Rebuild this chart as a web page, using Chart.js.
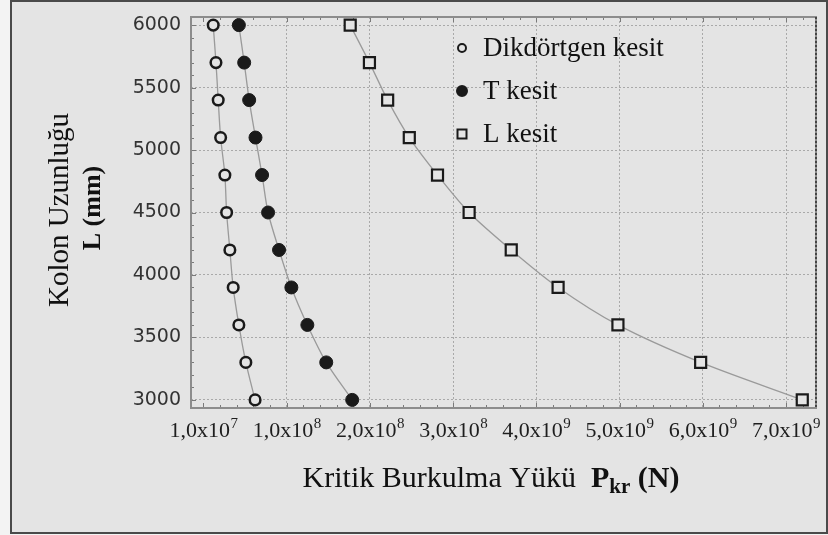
<!DOCTYPE html>
<html>
<head>
<meta charset="utf-8">
<script src="https://cdn.jsdelivr.net/npm/chart.js@4"></script>
<style>
  html, body { margin: 0; padding: 0; background: #f3f3f3; }
  #frame {
    position: absolute; left: 10px; top: 0px;
    width: 814px; height: 530px;
    border: 2px solid #4a4a4a;
    background: #e4e4e4;
  }
  #chart { display: block; }
</style>
</head>
<body>
<div id="frame"><canvas id="chart" width="814" height="530"></canvas></div>
<script>
// column length L (mm), top to bottom
var lengths = [6000, 5700, 5400, 5100, 4800, 4500, 4200, 3900, 3600, 3300, 3000];

// critical load, read as position along the x axis in tick steps
// (position i sits under xTickBases[i] x 10^xTickExps[i])
var dikdortgen = [0.117, 0.150, 0.177, 0.206, 0.257, 0.278, 0.317, 0.357, 0.425, 0.509, 0.620];
var tKesit     = [0.425, 0.489, 0.549, 0.625, 0.704, 0.776, 0.908, 1.056, 1.248, 1.475, 1.787];
var lKesit     = [1.763, 1.994, 2.213, 2.473, 2.812, 3.192, 3.698, 4.261, 4.980, 5.974, 7.195];

var seriesNames = ["Dikdörtgen kesit", "T kesit", "L kesit"];
var xTickBases = ["1,0x10", "1,0x10", "2,0x10", "3,0x10", "4,0x10", "5,0x10", "6,0x10", "7,0x10"];
var xTickExps  = ["7", "8", "8", "8", "9", "9", "9", "9"];
var yTickValues = [3000, 3500, 4000, 4500, 5000, 5500, 6000];
var xMinorStep = 0.2;
var yMinorStep = 100;

var bg = '#e4e4e4';
var ink = '#1a1a1a';
var serif = "'Liberation Serif', 'Times New Roman', serif";

function pts(xs) {
    return xs.map(function (v, i) { return { x: v, y: lengths[i] }; });
}

function series(label, xs, style, radius, fill, bw) {
    return {
        label: label,
        data: pts(xs),
        borderColor: '#9a9a9a',
        borderWidth: 1.3,
        tension: 0.3,
        pointStyle: style,
        pointRadius: radius,
        pointBackgroundColor: fill,
        pointBorderColor: ink,
        pointBorderWidth: bw
    };
}

// plot frame + small inward ticks
var framePlugin = {
    id: 'frame',
    beforeDatasetsDraw: function (chart) {
        var a = chart.chartArea, ctx = chart.ctx;
        var sx = chart.scales.x, sy = chart.scales.y;
        ctx.save();
        ctx.strokeStyle = '#7a7a7a';
        ctx.lineWidth = 1;
        ctx.beginPath();
        for (var v = -0.2; v <= sx.max; v += xMinorStep) {
            if (v < sx.min) continue;
            var px = Math.round(sx.getPixelForValue(v)) + 0.5;
            var len = Math.abs(v - Math.round(v)) < 0.01 ? 5 : 3;
            ctx.moveTo(px, a.bottom); ctx.lineTo(px, a.bottom - len);
            ctx.moveTo(px, a.top); ctx.lineTo(px, a.top + len);
        }
        for (var w = 3000; w <= sy.max; w += yMinorStep) {
            var py = Math.round(sy.getPixelForValue(w)) + 0.5;
            var l2 = w % 500 === 0 ? 5 : 3;
            ctx.moveTo(a.left, py); ctx.lineTo(a.left + l2, py);
        }
        for (var w2 = 3000 - yMinorStep; w2 >= sy.min; w2 -= yMinorStep) {
            var py2 = Math.round(sy.getPixelForValue(w2)) + 0.5;
            ctx.moveTo(a.left, py2); ctx.lineTo(a.left + 3, py2);
        }
        ctx.stroke();
        ctx.restore();
    },
    afterDraw: function (chart) {
        var a = chart.chartArea, ctx = chart.ctx;
        ctx.save();
        ctx.strokeStyle = '#8c8c8c';
        ctx.lineWidth = 2;
        ctx.strokeRect(a.left, a.top, a.right - a.left, a.bottom - a.top);
        ctx.strokeStyle = '#444';
        ctx.setLineDash([2, 2]);
        ctx.beginPath();
        ctx.moveTo(a.right, a.top); ctx.lineTo(a.right, a.bottom);
        ctx.stroke();
        ctx.restore();
    }
};

// x tick labels with real superscripts
var xLabelsPlugin = {
    id: 'xLabels',
    afterDraw: function (chart) {
        var sc = chart.scales.x, ctx = chart.ctx;
        var base = chart.chartArea.bottom + 29;
        ctx.save();
        ctx.fillStyle = '#1e1e1e';
        ctx.textBaseline = 'alphabetic';
        xTickBases.forEach(function (b, i) {
            ctx.font = '22px ' + serif;
            var wb = ctx.measureText(b).width;
            ctx.font = '15px ' + serif;
            var we = ctx.measureText(xTickExps[i]).width;
            var x0 = sc.getPixelForValue(i) - (wb + we) / 2;
            ctx.font = '22px ' + serif;
            ctx.fillText(b, x0, base);
            ctx.font = '15px ' + serif;
            ctx.fillText(xTickExps[i], x0 + wb + 0.5, base - 9);
        });
        ctx.restore();
    }
};

// legend inside the plot, top right
var legendPlugin = {
    id: 'insideLegend',
    afterDraw: function (chart) {
        var a = chart.chartArea, ctx = chart.ctx;
        var mx = a.left + 271, tx = a.left + 292;
        ctx.save();
        ctx.font = '27px ' + serif;
        ctx.textBaseline = 'middle';
        chart.data.datasets.forEach(function (ds, i) {
            var y = a.top + 31 + 43 * i;
            ctx.beginPath();
            ctx.lineWidth = 2;
            ctx.strokeStyle = ink;
            if (ds.pointStyle === 'rect') {
                ctx.rect(mx - 4.5, y - 4.5, 9, 9);
            } else {
                ctx.arc(mx, y, ds.pointBackgroundColor === ink ? 5 : 4, 0, Math.PI * 2);
            }
            ctx.fillStyle = ds.pointBackgroundColor;
            ctx.fill();
            ctx.stroke();
            ctx.fillStyle = '#111';
            ctx.fillText(ds.label, tx, y + 1);
        });
        ctx.restore();
    }
};

// axis titles (mixed normal / bold / subscript)
var titlesPlugin = {
    id: 'titles',
    afterDraw: function (chart) {
        var ctx = chart.ctx;
        ctx.save();
        ctx.fillStyle = '#111';
        // y title
        ctx.translate(48, 208);
        ctx.rotate(-Math.PI / 2);
        ctx.textAlign = 'center';
        ctx.textBaseline = 'middle';
        ctx.font = '29px ' + serif;
        ctx.fillText('Kolon Uzunluğu', 0, 0);
        ctx.font = 'bold 26px ' + serif;
        ctx.fillText('L (mm)', 2, 33);
        ctx.restore();

        // x title
        ctx.save();
        ctx.fillStyle = '#111';
        ctx.textBaseline = 'alphabetic';
        var parts = [
            { t: 'Kritik Burkulma Yükü  ', f: '30px ' + serif, dy: 0 },
            { t: 'P', f: 'bold 30px ' + serif, dy: 0 },
            { t: 'kr', f: 'bold 21px ' + serif, dy: 6 },
            { t: ' (N)', f: 'bold 30px ' + serif, dy: 0 }
        ];
        var total = 0;
        parts.forEach(function (p) { ctx.font = p.f; p.w = ctx.measureText(p.t).width; total += p.w; });
        var x = 479 - total / 2, base = 485;
        parts.forEach(function (p) {
            ctx.font = p.f;
            ctx.fillText(p.t, x, base + p.dy);
            x += p.w;
        });
        ctx.restore();
    }
};

var ctx1 = document.getElementById('chart');

var chart = new Chart(ctx1, {
    type: 'line',
    data: {
        datasets: [
            series(seriesNames[0], dikdortgen, 'circle', 5.3, bg, 2.5),
            series(seriesNames[1], tKesit, 'circle', 6.5, ink, 1),
            series(seriesNames[2], lKesit, 'rect', 7.8, bg, 2.2)
        ]
    },
    options: {
        responsive: false,
        animation: false,
        events: [],
        layout: { padding: { top: 15, right: 8, left: 0, bottom: 0 } },
        plugins: {
            legend: { display: false },
            tooltip: { enabled: false }
        },
        scales: {
            x: {
                type: 'linear',
                min: -0.15,
                max: 7.36,
                afterBuildTicks: function (scale) {
                    scale.ticks = xTickBases.map(function (l, i) { return { value: i }; });
                },
                afterFit: function (scale) {
                    scale.height = 124;
                    scale.paddingLeft = 0;
                    scale.paddingRight = 0;
                },
                grid: {
                    drawTicks: false,
                    lineWidth: 1,
                    color: function (c) { return c.tick && c.tick.value === 0 ? 'rgba(0,0,0,0)' : '#a9a9a9'; }
                },
                border: { display: false, dash: [2, 2] },
                ticks: { display: false }
            },
            y: {
                min: 2935,
                max: 6065,
                afterBuildTicks: function (scale) {
                    scale.ticks = yTickValues.map(function (v) { return { value: v }; });
                },
                afterFit: function (scale) {
                    scale.width = 179;
                    scale.paddingTop = 0;
                    scale.paddingBottom = 0;
                },
                grid: { drawTicks: false, lineWidth: 1, color: '#a9a9a9' },
                border: { display: false, dash: [2, 2] },
                ticks: {
                    padding: 10,
                    color: '#333',
                    font: { family: "'DejaVu Sans', sans-serif", size: 19 },
                    callback: function (v) { return String(v); }
                }
            }
        }
    },
    plugins: [framePlugin, xLabelsPlugin, legendPlugin, titlesPlugin]
});
</script>
</body>
</html>
